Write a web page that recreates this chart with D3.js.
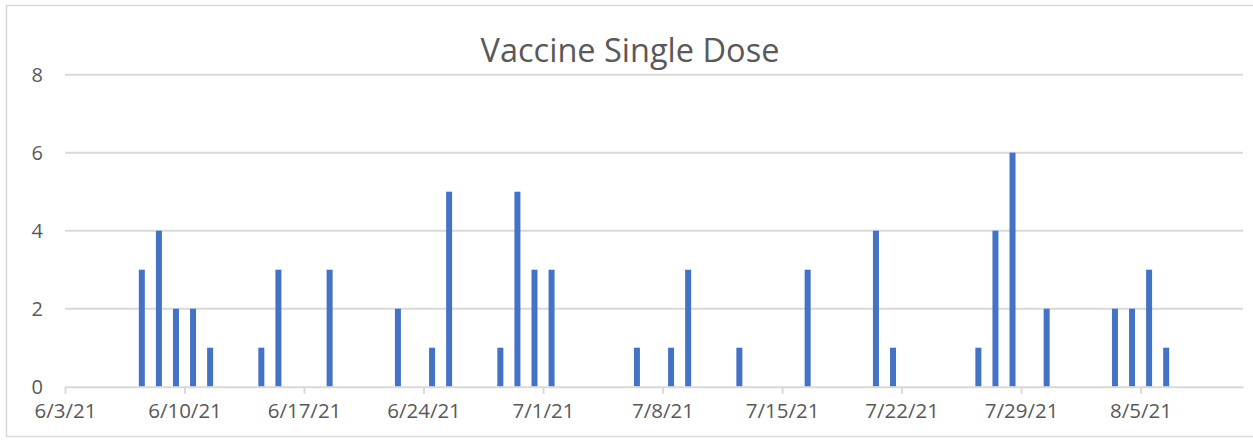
<!DOCTYPE html>
<html>
<head>
<meta charset="utf-8">
<script src="https://cdn.jsdelivr.net/npm/d3@7"></script>
<style>
  body { margin: 0; background: #fff; }
  svg { display: block; }
</style>
</head>
<body>
<div id="chart"></div>
<script>
// Daily single-dose counts (only days with doses)
const doseDates = [
  "6/7/21", "6/8/21", "6/9/21", "6/10/21", "6/11/21", "6/14/21", "6/15/21", "6/18/21",
  "6/22/21", "6/24/21", "6/25/21", "6/28/21", "6/29/21", "6/30/21", "7/1/21",
  "7/6/21", "7/8/21", "7/9/21", "7/12/21", "7/16/21", "7/20/21", "7/21/21",
  "7/26/21", "7/27/21", "7/28/21", "7/30/21", "8/3/21", "8/4/21", "8/5/21", "8/6/21"
];
const doseValues = [
  3, 4, 2, 2, 1, 1, 3, 3,
  2, 1, 5, 1, 5, 3, 3,
  1, 1, 3, 1, 3, 4, 1,
  1, 4, 6, 2, 2, 2, 3, 1
];
const xTickLabels = ["6/3/21", "6/10/21", "6/17/21", "6/24/21", "7/1/21", "7/8/21", "7/15/21", "7/22/21", "7/29/21", "8/5/21"];
const yTickValues = [0, 2, 4, 6, 8];
const xDomain = ["6/3/21", "8/11/21"];

const W = 1253, H = 440;
const textColor = "#595959", gridColor = "#D9D9D9", barColor = "#4472C4";
const parse = d3.utcParse("%-m/%-d/%y");

const data = doseDates.map((d, i) => ({ date: parse(d), value: doseValues[i] }));

const svg = d3.select("#chart").append("svg")
  .attr("width", W).attr("height", H);

// chart border
svg.append("rect")
  .attr("x", 6.5).attr("y", 5.5)
  .attr("width", W + 10).attr("height", 431)
  .attr("fill", "#fff").attr("stroke", gridColor).attr("stroke-width", 1.5);

const x = d3.scaleUtc()
  .domain(xDomain.map(parse))
  .range([65, 1243]);

const y = d3.scaleLinear()
  .domain([0, 8])
  .range([386.7, 74.7]);

// gridlines
svg.append("g")
  .selectAll("line")
  .data(yTickValues.filter(v => v > 0))
  .join("line")
  .attr("x1", x.range()[0]).attr("x2", x.range()[1])
  .attr("y1", d => y(d)).attr("y2", d => y(d))
  .attr("stroke", gridColor).attr("stroke-width", 2);

// y labels
svg.append("g")
  .selectAll("text")
  .data(yTickValues)
  .join("text")
  .attr("x", 43)
  .attr("y", d => y(d))
  .attr("dy", "0.36em")
  .attr("text-anchor", "end")
  .attr("font-family", "Open Sans, sans-serif")
  .attr("font-size", 20)
  .attr("fill", textColor)
  .text(d => d);

// bars, centred in each day's slot
const dayW = x(d3.utcDay.offset(parse(xDomain[0]), 1)) - x(parse(xDomain[0]));
const barW = 6;
svg.append("g")
  .selectAll("rect")
  .data(data)
  .join("rect")
  .attr("x", d => x(d.date) + dayW / 2 - barW / 2)
  .attr("y", d => y(d.value))
  .attr("width", barW)
  .attr("height", d => y(0) - y(d.value))
  .attr("fill", barColor);

// x axis
const xAxis = d3.axisBottom(x)
  .tickValues(xTickLabels.map(parse))
  .tickFormat(d3.utcFormat("%-m/%-d/%y"))
  .tickSize(7)
  .tickSizeOuter(0)
  .tickPadding(10);

const gx = svg.append("g")
  .attr("transform", `translate(0,${y(0)})`)
  .call(xAxis);
gx.select(".domain").attr("stroke", gridColor).attr("stroke-width", 2);
gx.selectAll(".tick line").attr("stroke", gridColor).attr("stroke-width", 2);
gx.selectAll(".tick text")
  .attr("font-family", "Open Sans, sans-serif")
  .attr("font-size", 20.5)
  .attr("fill", textColor);

// title
svg.append("text")
  .attr("x", 630)
  .attr("y", 62)
  .attr("text-anchor", "middle")
  .attr("font-family", "Open Sans, sans-serif")
  .attr("font-size", 32.5)
  .attr("fill", textColor)
  .text("Vaccine Single Dose");
</script>
</body>
</html>
